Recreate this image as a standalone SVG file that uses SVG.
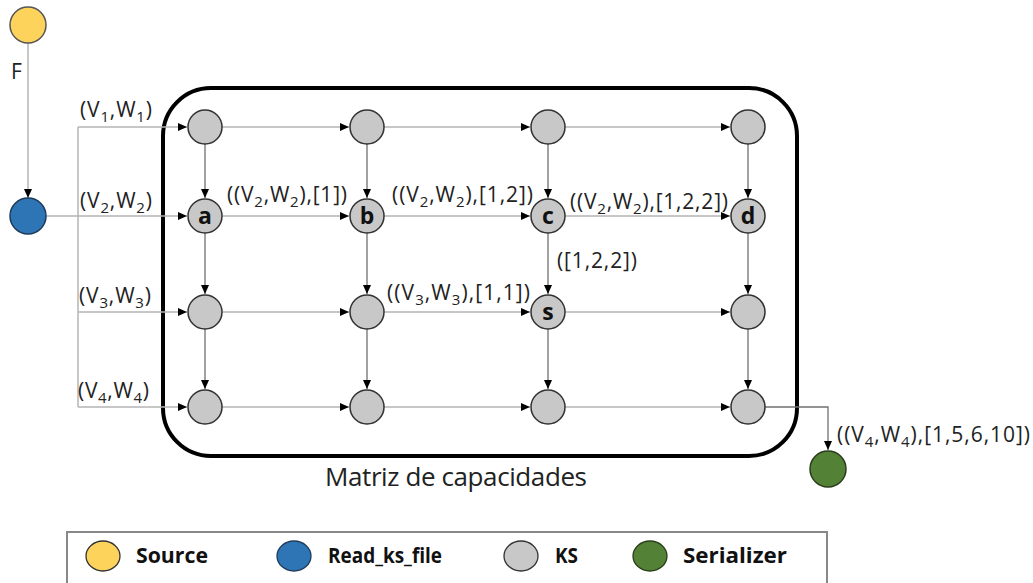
<svg xmlns="http://www.w3.org/2000/svg" width="1033" height="583" viewBox="0 0 1033 583">
<style>
.t{font-family:"Open Sans","Liberation Sans",sans-serif;font-size:21px;fill:#222}
.nl{font-family:"Open Sans","Liberation Sans",sans-serif;font-size:23px;font-weight:bold;fill:#111;text-anchor:middle}
.lg{font-family:"Open Sans","Liberation Sans",sans-serif;font-size:21px;font-weight:bold;fill:#111}
.ks{fill:#c8c8c8;stroke:#333;stroke-width:1.5}
.h{stroke:#b4b4b4;stroke-width:1.5;fill:none}
.v{stroke:#707070;stroke-width:1.3;fill:none}
.s{font-size:15px}
</style>
<defs>
<marker id="ar" markerUnits="userSpaceOnUse" markerWidth="10" markerHeight="10" refX="9" refY="5" orient="auto">
<path d="M0,1 L9,5 L0,9 Z" fill="#000"/>
</marker>
</defs>
<rect x="163" y="88" width="634" height="368" rx="48" ry="48" fill="none" stroke="#000" stroke-width="4"/>
<g id="connectors">
<line class="h" x1="28" y1="43" x2="28" y2="198" marker-end="url(#ar)"/>
<line class="h" x1="46" y1="216" x2="187" y2="216" marker-end="url(#ar)"/>
<polyline class="h" points="78,216 78,127"/>
<polyline class="h" points="78,216 78,407"/>
<line class="h" x1="78" y1="127" x2="187" y2="127" marker-end="url(#ar)"/>
<line class="h" x1="78" y1="312" x2="187" y2="312" marker-end="url(#ar)"/>
<line class="h" x1="78" y1="407" x2="187" y2="407" marker-end="url(#ar)"/>
<line class="h" x1="222" y1="127" x2="349" y2="127" marker-end="url(#ar)"/>
<line class="h" x1="384" y1="127" x2="530" y2="127" marker-end="url(#ar)"/>
<line class="h" x1="565" y1="127" x2="730" y2="127" marker-end="url(#ar)"/>
<line class="h" x1="222" y1="216" x2="349" y2="216" marker-end="url(#ar)"/>
<line class="h" x1="384" y1="216" x2="530" y2="216" marker-end="url(#ar)"/>
<line class="h" x1="565" y1="216" x2="730" y2="216" marker-end="url(#ar)"/>
<line class="h" x1="222" y1="312" x2="349" y2="312" marker-end="url(#ar)"/>
<line class="h" x1="384" y1="312" x2="530" y2="312" marker-end="url(#ar)"/>
<line class="h" x1="565" y1="312" x2="730" y2="312" marker-end="url(#ar)"/>
<line class="h" x1="222" y1="407" x2="349" y2="407" marker-end="url(#ar)"/>
<line class="h" x1="384" y1="407" x2="530" y2="407" marker-end="url(#ar)"/>
<line class="h" x1="565" y1="407" x2="730" y2="407" marker-end="url(#ar)"/>
<polyline class="v" points="765,407 828,407 828,450" marker-end="url(#ar)"/>
<line class="v" x1="205" y1="144" x2="205" y2="198" marker-end="url(#ar)"/>
<line class="v" x1="205" y1="233" x2="205" y2="294" marker-end="url(#ar)"/>
<line class="v" x1="205" y1="329" x2="205" y2="389" marker-end="url(#ar)"/>
<line class="v" x1="367" y1="144" x2="367" y2="198" marker-end="url(#ar)"/>
<line class="v" x1="367" y1="233" x2="367" y2="294" marker-end="url(#ar)"/>
<line class="v" x1="367" y1="329" x2="367" y2="389" marker-end="url(#ar)"/>
<line class="v" x1="548" y1="144" x2="548" y2="198" marker-end="url(#ar)"/>
<line class="v" x1="548" y1="233" x2="548" y2="294" marker-end="url(#ar)"/>
<line class="v" x1="548" y1="329" x2="548" y2="389" marker-end="url(#ar)"/>
<line class="v" x1="748" y1="144" x2="748" y2="198" marker-end="url(#ar)"/>
<line class="v" x1="748" y1="233" x2="748" y2="294" marker-end="url(#ar)"/>
<line class="v" x1="748" y1="329" x2="748" y2="389" marker-end="url(#ar)"/>
</g>
<g id="labels">
<text class="t" x="11" y="79">F</text>
<text class="t" x="80" y="117" textLength="72" lengthAdjust="spacing">(V<tspan class="s" dy="5">1</tspan><tspan dy="-5">,W</tspan><tspan class="s" dy="5">1</tspan><tspan dy="-5">)</tspan></text>
<text class="t" x="80" y="208" textLength="72" lengthAdjust="spacing">(V<tspan class="s" dy="5">2</tspan><tspan dy="-5">,W</tspan><tspan class="s" dy="5">2</tspan><tspan dy="-5">)</tspan></text>
<text class="t" x="79" y="303" textLength="72" lengthAdjust="spacing">(V<tspan class="s" dy="5">3</tspan><tspan dy="-5">,W</tspan><tspan class="s" dy="5">3</tspan><tspan dy="-5">)</tspan></text>
<text class="t" x="78" y="398" textLength="71" lengthAdjust="spacing">(V<tspan class="s" dy="5">4</tspan><tspan dy="-5">,W</tspan><tspan class="s" dy="5">4</tspan><tspan dy="-5">)</tspan></text>
<text class="t" x="227" y="202" textLength="120" lengthAdjust="spacing">((V<tspan class="s" dy="5">2</tspan><tspan dy="-5">,W</tspan><tspan class="s" dy="5">2</tspan><tspan dy="-5">),[1])</tspan></text>
<text class="t" x="392" y="202" textLength="141" lengthAdjust="spacing">((V<tspan class="s" dy="5">2</tspan><tspan dy="-5">,W</tspan><tspan class="s" dy="5">2</tspan><tspan dy="-5">),[1,2])</tspan></text>
<text class="t" x="570" y="209" textLength="158" lengthAdjust="spacing">((V<tspan class="s" dy="5">2</tspan><tspan dy="-5">,W</tspan><tspan class="s" dy="5">2</tspan><tspan dy="-5">),[1,2,2])</tspan></text>
<text class="t" x="557" y="268" textLength="80" lengthAdjust="spacing">([1,2,2])</text>
<text class="t" x="387" y="300" textLength="143" lengthAdjust="spacing">((V<tspan class="s" dy="5">3</tspan><tspan dy="-5">,W</tspan><tspan class="s" dy="5">3</tspan><tspan dy="-5">),[1,1])</tspan></text>
<text class="t" x="837" y="442" textLength="193" lengthAdjust="spacing">((V<tspan class="s" dy="5">4</tspan><tspan dy="-5">,W</tspan><tspan class="s" dy="5">4</tspan><tspan dy="-5">),[1,5,6,10])</tspan></text>
<text class="t" x="325" y="486" style="font-size:26px" textLength="262" lengthAdjust="spacing">Matriz de capacidades</text>
</g>
<g id="source"><circle cx="28" cy="25" r="18" fill="#fdd35c" stroke="#555" stroke-width="1.5"/></g>
<g id="read_ks_file"><circle cx="28" cy="216" r="18" fill="#2e75b6" stroke="#1f3b5a" stroke-width="1.5"/></g>
<g id="serializer"><circle cx="828" cy="469" r="18" fill="#538135" stroke="#2a3d1c" stroke-width="1.5"/></g>
<g id="ks11"><circle class="ks" cx="205" cy="127" r="17"/></g>
<g id="ks12"><circle class="ks" cx="367" cy="127" r="17"/></g>
<g id="ks13"><circle class="ks" cx="548" cy="127" r="17"/></g>
<g id="ks14"><circle class="ks" cx="748" cy="127" r="17"/></g>
<g id="a"><circle class="ks" cx="205" cy="216" r="17"/><text class="nl" x="205" y="224">a</text></g>
<g id="b"><circle class="ks" cx="367" cy="216" r="17"/><text class="nl" x="367" y="224">b</text></g>
<g id="c"><circle class="ks" cx="548" cy="216" r="17"/><text class="nl" x="548" y="224">c</text></g>
<g id="d"><circle class="ks" cx="748" cy="216" r="17"/><text class="nl" x="748" y="224">d</text></g>
<g id="ks31"><circle class="ks" cx="205" cy="312" r="17"/></g>
<g id="ks32"><circle class="ks" cx="367" cy="312" r="17"/></g>
<g id="s"><circle class="ks" cx="548" cy="312" r="17"/><text class="nl" x="548" y="320">s</text></g>
<g id="ks34"><circle class="ks" cx="748" cy="312" r="17"/></g>
<g id="ks41"><circle class="ks" cx="205" cy="407" r="17"/></g>
<g id="ks42"><circle class="ks" cx="367" cy="407" r="17"/></g>
<g id="ks43"><circle class="ks" cx="548" cy="407" r="17"/></g>
<g id="ks44"><circle class="ks" cx="748" cy="407" r="17"/></g>
<g id="legend">
<rect x="67" y="532" width="760" height="60" fill="#fff" stroke="#888" stroke-width="2"/>
<ellipse cx="103" cy="556" rx="17" ry="15" fill="#fdd35c" stroke="#333" stroke-width="1.3"/>
<text class="lg" x="136" y="563" textLength="72" lengthAdjust="spacingAndGlyphs">Source</text>
<ellipse cx="294" cy="556" rx="17" ry="15" fill="#2e75b6" stroke="#1f3b5a" stroke-width="1.3"/>
<text class="lg" x="328" y="563" textLength="114" lengthAdjust="spacingAndGlyphs">Read_ks_file</text>
<ellipse cx="521" cy="556" rx="17" ry="15" fill="#c8c8c8" stroke="#333" stroke-width="1.3"/>
<text class="lg" x="555" y="563" textLength="23" lengthAdjust="spacingAndGlyphs">KS</text>
<ellipse cx="650" cy="556" rx="17" ry="15" fill="#538135" stroke="#2a3d1c" stroke-width="1.3"/>
<text class="lg" x="683" y="563" textLength="104" lengthAdjust="spacingAndGlyphs">Serializer</text>
</g>
</svg>
